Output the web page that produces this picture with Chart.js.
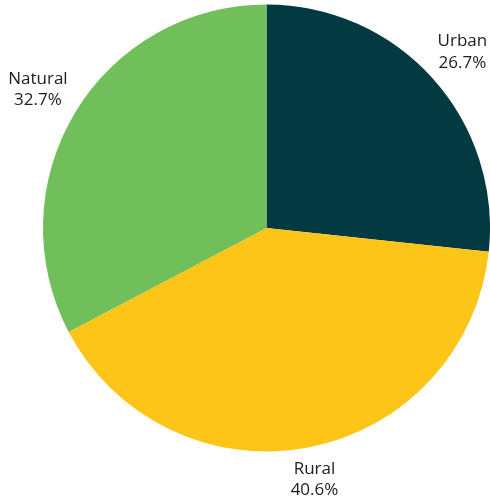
<!DOCTYPE html>
<html>
<head>
<meta charset="utf-8">
<script src="https://cdn.jsdelivr.net/npm/chart.js@4"></script>
<style>
  html, body { margin: 0; padding: 0; background: #fff; }
  #wrap { width: 490px; height: 497px; position: relative; }
</style>
</head>
<body>
<div id="wrap"><canvas id="landChart"></canvas></div>
<script>
const categories = ['Urban', 'Rural', 'Natural'];
const shares = [26.7, 40.6, 32.7];
const sliceColors = ['#033a41', '#fcc518', '#71bf5a'];

// category name + percentage written just outside each slice
const outsideLabels = {
    id: 'outsideLabels',
    afterDraw(chart) {
        const ctx = chart.ctx;
        const arcs = chart.getDatasetMeta(0).data;
        const lineH = 21.5;
        ctx.save();
        ctx.font = '17px "Open Sans", sans-serif';
        ctx.fillStyle = '#1c1c1c';
        ctx.textAlign = 'center';
        ctx.textBaseline = 'middle';
        arcs.forEach((arc, i) => {
            const { x, y, startAngle, endAngle, outerRadius } = arc.getProps(['x', 'y', 'startAngle', 'endAngle', 'outerRadius'], true);
            const mid = (startAngle + endAngle) / 2;
            const lines = [categories[i], shares[i].toFixed(1) + '%'];
            const hw = Math.max(...lines.map(l => ctx.measureText(l).width)) / 2;
            const hh = lineH;
            const cos = Math.cos(mid), sin = Math.sin(mid);
            const dist = outerRadius + 7 + Math.abs(hw * cos) + Math.abs(hh * sin);
            const cx = x + cos * dist;
            const cy = y + sin * dist;
            ctx.fillText(lines[0], cx, cy - lineH / 2);
            ctx.fillText(lines[1], cx, cy + lineH / 2);
        });
        ctx.restore();
    }
};

new Chart(document.getElementById('landChart').getContext('2d'), {
    type: 'pie',
    data: {
        labels: categories,
        datasets: [{
            data: shares,
            backgroundColor: sliceColors,
            borderWidth: 0
        }]
    },
    options: {
        responsive: true,
        maintainAspectRatio: false,
        animation: false,
        layout: { padding: { left: 43, right: 0, top: 4, bottom: 45 } },
        plugins: {
            legend: { display: false },
            tooltip: { enabled: false }
        }
    },
    plugins: [outsideLabels]
});
</script>
</body>
</html>
